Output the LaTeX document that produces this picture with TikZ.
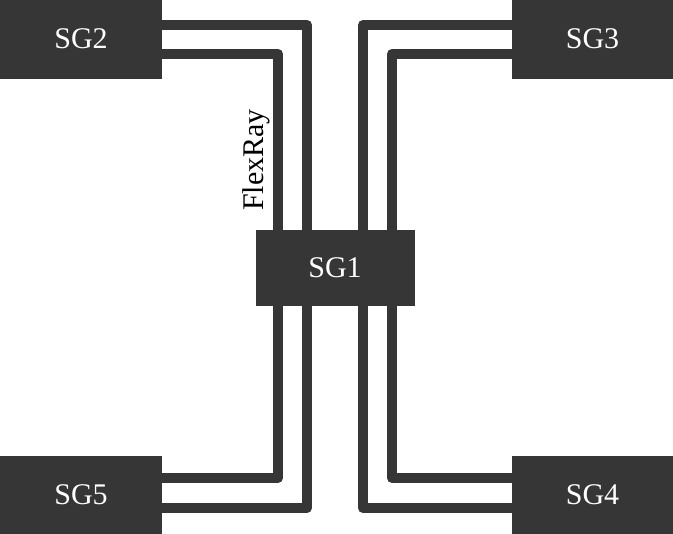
\documentclass[tikz,border=0pt]{standalone}
\usepackage{fontspec}
\setmainfont{Liberation Serif}
\definecolor{ecu}{RGB}{54,54,54}

\begin{document}
\begin{tikzpicture}[x=1pt,y=-1pt,
    box/.style={rectangle,draw=ecu,fill=ecu,text=white,inner sep=0pt,
        minimum width=161pt,minimum height=78pt,font=\fontsize{30}{36}\selectfont},
    bus/.style={draw=ecu,line width=10pt,line join=round}]
    \useasboundingbox (0,0) rectangle (673,534);

    % Control units
    \node[box] (sg2) at (81,39) {SG2};
    \node[box] (sg3) at (592.5,39) {SG3};
    \node[box] (sg5) at (81,495) {SG5};
    \node[box] (sg4) at (592.5,495) {SG4};
    \node[box,minimum width=158pt,minimum height=75pt] (sg1) at (335,267.5) {SG1};

    % FlexRay channels
    \draw[bus] ([yshift=14pt]sg2.east) -| ([xshift=-28pt]sg1.north);
    \draw[bus] ([yshift=-15pt]sg2.east) -| ([xshift=-57pt]sg1.north);
    \draw[bus] ([yshift=14pt]sg3.west) -| ([xshift=28pt]sg1.north);
    \draw[bus] ([yshift=-15pt]sg3.west) -| ([xshift=57pt]sg1.north);
    \draw[bus] ([yshift=17pt]sg5.east) -| ([xshift=-57pt]sg1.south);
    \draw[bus] ([yshift=-13pt]sg5.east) -| ([xshift=-28pt]sg1.south);
    \draw[bus] ([yshift=17pt]sg4.west) -| ([xshift=57pt]sg1.south);
    \draw[bus] ([yshift=-13pt]sg4.west) -| ([xshift=28pt]sg1.south);

    \node[rotate=90,inner sep=0pt,font=\fontsize{30}{36}\selectfont] (lbl) at (256,160) {FlexRay};
\end{tikzpicture}
\end{document}
